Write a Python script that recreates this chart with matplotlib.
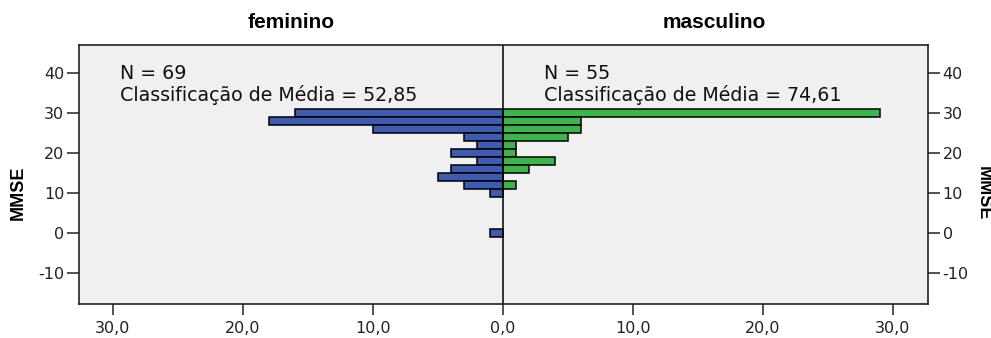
import numpy as np
import matplotlib
matplotlib.use("Agg")
import matplotlib.pyplot as plt
from matplotlib.ticker import FuncFormatter

# Pirâmide de frequências do MMSE por sexo (histograma, classes de largura 2)
centros = [30, 28, 26, 24, 22, 20, 18, 16, 14, 12, 10, 0]
feminino = [16, 18, 10, 3, 2, 4, 2, 4, 5, 3, 1, 1]
masculino = [29, 6, 6, 5, 1, 1, 4, 2, 0, 1, 0, 0]
grupos = ["feminino", "masculino"]
n_grupo = [69, 55]
media_rank = ["52,85", "74,61"]

azul = "#3D5BAF"
verde = "#3CB64A"

plt.rcParams["font.family"] = ["DejaVu Sans"]
plt.rcParams["axes.unicode_minus"] = False

fig = plt.figure(figsize=(9.91, 3.38), dpi=100)
ax = fig.add_axes([79 / 991, 34 / 338, 849 / 991, 259 / 338])
ax.set_facecolor("#F0F0F0")

fem = np.array(feminino)
mas = np.array(masculino)
y = np.array(centros)
ax.barh(y[fem > 0], -fem[fem > 0], height=2, color=azul, edgecolor="black", linewidth=1.1)
ax.barh(y[mas > 0], mas[mas > 0], height=2, color=verde, edgecolor="black", linewidth=1.1)
ax.axvline(0, color="black", linewidth=1.1)

ax.set_xlim(-32.6, 32.7)
ax.set_ylim(-17.75, 47.0)

ax.set_xticks([-30, -20, -10, 0, 10, 20, 30])
ax.xaxis.set_major_formatter(FuncFormatter(lambda v, p: f"{abs(v):.1f}".replace(".", ",")))
ax.set_yticks([-10, 0, 10, 20, 30, 40])

for s in ax.spines.values():
    s.set_linewidth(1.2)
    s.set_color("#222222")

ax.tick_params(axis="x", direction="out", length=8, width=1.1, pad=4,
               labelsize=11.5, colors="#222222")
ax.tick_params(axis="y", direction="out", length=8.5, width=1.1, pad=2,
               labelsize=11.5, colors="#222222", right=True, labelright=True)

# rótulos do eixo vertical dos dois lados
fig.text(18 / 991, 1 - 193 / 338, "MMSE", rotation=90, ha="center", va="center",
         fontsize=13, fontweight="bold", family="Liberation Sans")
fig.text(983 / 991, 1 - 193 / 338, "MMSE", rotation=-90, ha="center", va="center",
         fontsize=13, fontweight="bold", family="Liberation Sans")

# títulos dos grupos e estatísticas
xt = [-16.3, 16.3]
xs = [-29.45, 3.2]
for i, g in enumerate(grupos):
    ax.text(xt[i], 47.0 + 22 / 4.0, g, ha="center", va="center",
            fontsize=15, fontweight="bold", family="Liberation Sans")
    ax.text(xs[i], 38.5, f"N = {n_grupo[i]}", ha="left", va="baseline",
            fontsize=13.7, color="#111111")
    ax.text(xs[i], 33.0, f"Classificação de Média = {media_rank[i]}",
            ha="left", va="baseline", fontsize=13.7, color="#111111")

fig.savefig("out.png", dpi=100)
